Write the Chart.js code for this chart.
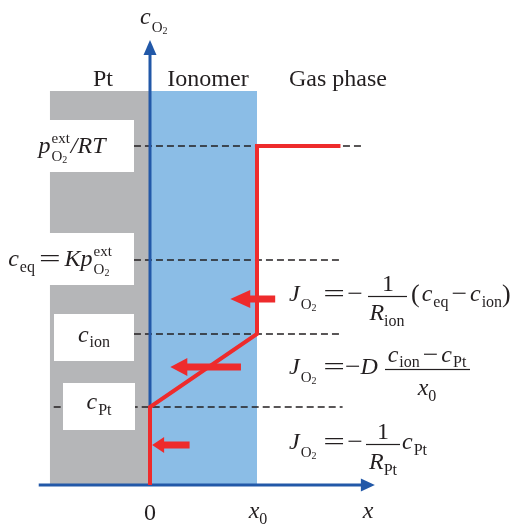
<!DOCTYPE html>
<html>
<head>
<meta charset="utf-8">
<script src="https://cdn.jsdelivr.net/npm/chart.js@4.4.1/dist/chart.umd.min.js"></script>
<style>
  html, body { margin: 0; padding: 0; background: #fff; }
  #wrap { width: 514px; height: 525px; position: relative; }
</style>
</head>
<body>
<div id="wrap"><canvas id="chart"></canvas></div>
<script>
// Konzentrationsniveaus (y) und Orte (x), Ionomerdicke x0 = 1
const levelNames = ["cPt", "cion", "ceq", "pext"];
const levelValues = [0.78, 1.51, 2.25, 3.39];
const dashFrom = [-0.90, -0.15, -0.15, -0.15];
const dashTo = [1.80, 1.80, 1.80, 1.98];

// O2-Profil (rote Linie)
const profileX = [1.78, 1, 1, 0, 0];
const profileY = [3.39, 3.39, 1.51, 0.78, 0];

// Bereiche: Pt, Ionomer
const regionNames = ["Pt", "Ionomer"];
const regionFrom = [-0.935, 0];
const regionTo = [0, 1];
const regionTop = 3.94;

// Flusspfeile
const fluxY = [1.86, 1.18, 0.40];
const fluxFrom = [1.17, 0.85, 0.37];
const fluxTo = [0.75, 0.19, 0.02];

// Achsen
const xTickValues = [0, 1];
const xTickLabels = ["0", "x0"];
const yAxisTop = 4.31;
const xAxisFrom = -1.04;
const xAxisTo = 1.98;

const SERIF = '"Liberation Serif", "Times New Roman", serif';
const it = s => "italic " + s + "px " + SERIF;
const rm = s => s + "px " + SERIF;
const TEXT = "#231f20";
const RED = "#ee2b2c";
const AXIS = "#2258a8";

// Minuszeichen etwas breiter, wie im Formelsatz
const minus = (dx = 0) => ["\u2212", rm(24), 0, dx, 1.15];

// Text mit Hoch-/Tiefstellungen
function rich(ctx, x, y, parts, align) {
  const run = draw => {
    let cx = x, mark = x, maxX = x;
    parts.forEach(p => {
      if (p === "mark") { mark = cx; return; }
      if (p === "back") { maxX = Math.max(maxX, cx); cx = mark; return; }
      if (p === "max") { cx = Math.max(maxX, cx); return; }
      const [t, f, dy = 0, dx = 0, sx = 1] = p;
      ctx.font = f;
      cx += dx;
      const w = ctx.measureText(t).width * sx;
      if (draw) {
        ctx.save();
        ctx.translate(cx, y + dy);
        ctx.scale(sx, 1);
        ctx.fillText(t, 0, 0);
        ctx.restore();
      }
      cx += w;
      maxX = Math.max(maxX, cx);
    });
    return Math.max(cx, maxX) - x;
  };
  if (align === "center") x -= run(false) / 2;
  run(true);
}

function fracBar(ctx, x1, x2, y) {
  ctx.fillRect(x1, y - 0.6, x2 - x1, 1.2);
}

function jo2(ctx, y) {
  rich(ctx, 289, y, [["J", it(24)], ["O", rm(15), 8, 1], ["2", rm(10), 10]]);
  rich(ctx, 334, y, [["=", rm(24), 0, 0, 1.6]], "center");
}

const diagramPlugin = {
  id: "diagram",
  beforeDatasetsDraw(chart) {
    const ctx = chart.ctx, xs = chart.scales.x, ys = chart.scales.y;
    const colors = ["#b5b6b8", "#8bbde6"];
    ctx.save();
    regionNames.forEach((n, i) => {
      const x1 = xs.getPixelForValue(regionFrom[i]);
      const x2 = xs.getPixelForValue(regionTo[i]);
      const y1 = ys.getPixelForValue(regionTop);
      const y2 = ys.getPixelForValue(0);
      ctx.fillStyle = colors[i];
      ctx.fillRect(x1, y1, x2 - x1, y2 - y1);
    });
    ctx.restore();
  },
  afterDatasetsDraw(chart) {
    const ctx = chart.ctx, xs = chart.scales.x, ys = chart.scales.y;
    ctx.save();

    // weiße Beschriftungsfelder
    const boxes = [
      { lvl: 3, x1: 0, x2: 134, up: 26, down: 26 },
      { lvl: 2, x1: 0, x2: 134, up: 27, down: 25 },
      { lvl: 1, x1: 54, x2: 134, up: 20, down: 27 },
      { lvl: 0, x1: 63, x2: 135, up: 24, down: 23 }
    ];
    ctx.fillStyle = "#fff";
    boxes.forEach(b => {
      const yc = ys.getPixelForValue(levelValues[b.lvl]);
      ctx.fillRect(b.x1, yc - b.up, b.x2 - b.x1, b.up + b.down);
    });

    // Achsenpfeile
    ctx.fillStyle = AXIS;
    const ax0 = xs.getPixelForValue(0), ay0 = ys.getPixelForValue(0);
    const yTopBase = ys.getPixelForValue(yAxisTop);
    ctx.beginPath();
    ctx.moveTo(ax0, yTopBase - 14);
    ctx.lineTo(ax0 - 6.5, yTopBase + 1);
    ctx.lineTo(ax0 + 6.5, yTopBase + 1);
    ctx.closePath();
    ctx.fill();
    const xRightBase = xs.getPixelForValue(xAxisTo);
    ctx.beginPath();
    ctx.moveTo(xRightBase + 13, ay0);
    ctx.lineTo(xRightBase - 1, ay0 - 6.5);
    ctx.lineTo(xRightBase - 1, ay0 + 6.5);
    ctx.closePath();
    ctx.fill();

    // Flusspfeile
    const heads = [20, 17, 12];
    const halfH = [9, 9, 8];
    ctx.fillStyle = RED;
    fluxY.forEach((v, i) => {
      const y = ys.getPixelForValue(v);
      const xa = xs.getPixelForValue(fluxFrom[i]);
      const xt = xs.getPixelForValue(fluxTo[i]);
      const xb = xt + heads[i];
      ctx.fillRect(xb - 1, y - 3.5, xa - xb + 1, 7);
      ctx.beginPath();
      ctx.moveTo(xt, y);
      ctx.lineTo(xb, y - halfH[i]);
      ctx.lineTo(xb, y + halfH[i]);
      ctx.closePath();
      ctx.fill();
    });

    // Texte
    ctx.fillStyle = TEXT;
    ctx.textBaseline = "alphabetic";
    ctx.textAlign = "left";

    rich(ctx, 140, 24, [["c", it(24)], ["O", rm(15), 8, 1], ["2", rm(10), 10]]);

    const regionCenters = [103, 208];
    regionNames.forEach((n, i) => rich(ctx, regionCenters[i], 86, [[n, rm(24)]], "center"));
    rich(ctx, 338, 86, [["Gas phase", rm(24)]], "center");

    // Niveaus links
    const lp = l => ys.getPixelForValue(levelValues[l]);
    rich(ctx, 72, lp(3) + 7, [["p", it(24)], "mark", ["ext", rm(15), -10, 1], "back",
      ["O", rm(15), 8, 1], ["2", rm(10), 10], "max", ["/", it(24), 0, 1], ["RT", it(24)]], "center");
    rich(ctx, 60, lp(2) + 6, [["c", it(24)], ["eq", rm(16), 6, 1], ["=", rm(24), 0, 4, 1.6],
      ["K", it(24), 0, 4], ["p", it(24)], "mark", ["ext", rm(15), -10, 1], "back",
      ["O", rm(15), 8, 1], ["2", rm(10), 10]], "center");
    rich(ctx, 94, lp(1) + 8, [["c", it(24)], ["ion", rm(16), 5, 1]], "center");
    rich(ctx, 99, lp(0) + 2, [["c", it(24)], ["Pt", rm(16), 6, 1]], "center");

    // Gleichung 1
    jo2(ctx, 301);
    rich(ctx, 355, 301, [minus()], "center");
    fracBar(ctx, 368, 407, 296.5);
    rich(ctx, 388, 291, [["1", rm(24)]], "center");
    rich(ctx, 387, 320, [["R", it(24)], ["ion", rm(16), 6]], "center");
    rich(ctx, 411, 301, [["(", rm(26), 1], ["c", it(24), 0, 2], ["eq", rm(16), 6, 1],
      minus(3), ["c", it(24), 0, 3], ["ion", rm(16), 6, 1], [")", rm(26), 1]]);

    // Gleichung 2
    jo2(ctx, 374);
    rich(ctx, 345, 374, [minus(), ["D", it(24)]]);
    fracBar(ctx, 385, 470, 369.5);
    rich(ctx, 427, 362, [["c", it(24)], ["ion", rm(16), 5, 1], minus(3),
      ["c", it(24), 0, 3], ["Pt", rm(16), 5, 1]], "center");
    rich(ctx, 427, 395, [["x", it(24)], ["0", rm(16), 6]], "center");

    // Gleichung 3
    jo2(ctx, 449);
    rich(ctx, 355, 449, [minus()], "center");
    fracBar(ctx, 366, 400, 444.5);
    rich(ctx, 383, 439, [["1", rm(24)]], "center");
    rich(ctx, 383, 469, [["R", it(24)], ["Pt", rm(16), 6]], "center");
    rich(ctx, 402, 449, [["c", it(24)], ["Pt", rm(16), 6, 1]]);

    // Achsenbeschriftung
    xTickValues.forEach((v, i) => {
      const px = xs.getPixelForValue(v);
      const lab = xTickLabels[i];
      if (lab === "x0") rich(ctx, px + 1, 518, [["x", it(24)], ["0", rm(16), 6]], "center");
      else rich(ctx, px, 520, [[lab, rm(24)]], "center");
    });
    rich(ctx, 368, 518, [["x", it(24)]], "center");

    ctx.restore();
  }
};

const pts = (xa, ya) => xa.map((x, i) => ({ x: x, y: ya[i] }));

const datasets = [
  {
    label: "Profil",
    data: pts(profileX, profileY),
    borderColor: RED,
    borderWidth: 4,
    borderJoinStyle: "miter",
    borderCapStyle: "butt"
  },
  {
    label: "y-Achse",
    data: [{ x: 0, y: 0 }, { x: 0, y: yAxisTop }],
    borderColor: AXIS,
    borderWidth: 3
  },
  {
    label: "x-Achse",
    data: [{ x: xAxisFrom, y: 0 }, { x: xAxisTo, y: 0 }],
    borderColor: AXIS,
    borderWidth: 3
  }
];
levelNames.forEach((n, i) => {
  datasets.push({
    label: n,
    data: [{ x: dashFrom[i], y: levelValues[i] }, { x: dashTo[i], y: levelValues[i] }],
    borderColor: TEXT,
    borderWidth: 1.3,
    borderDash: [7, 4]
  });
});

new Chart(document.getElementById("chart").getContext("2d"), {
  type: "line",
  data: { datasets: datasets },
  options: {
    responsive: true,
    maintainAspectRatio: false,
    animation: false,
    layout: { padding: 0 },
    elements: { point: { radius: 0, hoverRadius: 0 }, line: { tension: 0 } },
    scales: {
      x: { type: "linear", min: -150 / 107, max: 364 / 107, display: false },
      y: { type: "linear", min: -0.40, max: 4.85, display: false }
    },
    plugins: { legend: { display: false }, tooltip: { enabled: false } },
    events: []
  },
  plugins: [diagramPlugin]
});
</script>
</body>
</html>
